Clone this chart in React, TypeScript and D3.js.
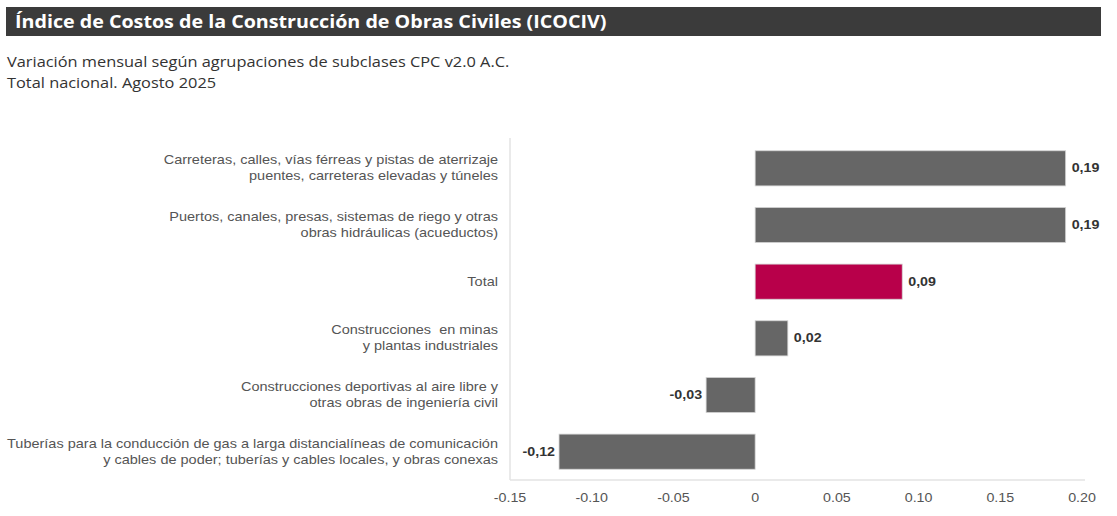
import React, { useEffect, useRef } from 'react';
import * as d3 from 'd3';

const categories = [
  ['Carreteras, calles, vías férreas y pistas de aterrizaje', 'puentes, carreteras elevadas y túneles'],
  ['Puertos, canales, presas, sistemas de riego y otras', 'obras hidráulicas (acueductos)'],
  ['Total'],
  ['Construcciones \u00a0en minas', 'y plantas industriales'],
  ['Construcciones deportivas al aire libre y', 'otras obras de ingeniería civil'],
  ['Tuberías para la conducción de gas a larga distancialíneas de comunicación', 'y cables de poder; tuberías y cables locales, y obras conexas'],
];
const values = [0.19, 0.19, 0.09, 0.02, -0.03, -0.12];
const xTicks = [-0.15, -0.1, -0.05, 0, 0.05, 0.1, 0.15, 0.2];
const xTickLabels = ['-0.15', '-0.10', '-0.05', '0', '0.05', '0.10', '0.15', '0.20'];

const W = 1117;
const H = 516;
// the original picture is stretched horizontally
const SX = 1.19;

const App = () => {
  const svgRef = useRef<SVGSVGElement>(null);

  useEffect(() => {
    if (!svgRef.current) return;
    const root = d3.select(svgRef.current);
    root.selectAll('*').remove();

    root.append('rect').attr('width', W).attr('height', H).attr('fill', '#fff');

    const at = (x: number, y: number, s = SX) => `translate(${x},${y}) scale(${s},1)`;

    // Title bar
    root.append('rect')
      .attr('x', 6).attr('y', 7)
      .attr('width', 1095).attr('height', 29)
      .attr('fill', '#3b3b3b');
    root.append('text')
      .attr('transform', at(15, 28, 1.158))
      .attr('fill', '#fff')
      .style('font-family', '"Open Sans", sans-serif')
      .style('font-weight', 700)
      .style('font-size', '17px')
      .text('Índice de Costos de la Construcción de Obras Civiles (ICOCIV)');

    const sub = root.append('g')
      .style('font-family', '"Open Sans", sans-serif')
      .style('font-size', '14px')
      .attr('fill', '#333');
    sub.append('text').attr('transform', at(7, 67, 1.17))
      .text('Variación mensual según agrupaciones de subclases CPC v2.0 A.C.');
    sub.append('text').attr('transform', at(7, 88, 1.17))
      .text('Total nacional. Agosto 2025');

    // Scales
    const x = d3.scaleLinear().domain([-0.15, 0.2]).range([510, 1082]);
    const y = d3.scaleBand<number>()
      .domain(d3.range(values.length))
      .range([140, 480])
      .paddingInner(0.38)
      .paddingOuter(0.19);

    const font = '"Liberation Sans", Arial, sans-serif';

    // axis lines
    root.append('line')
      .attr('x1', x(-0.15)).attr('x2', x(-0.15))
      .attr('y1', 138).attr('y2', 480)
      .attr('stroke', '#e3e3e3').attr('stroke-width', 1.5);
    root.append('line')
      .attr('x1', x(-0.15)).attr('x2', 1085)
      .attr('y1', 480).attr('y2', 480)
      .attr('stroke', '#e3e3e3').attr('stroke-width', 1.5);

    // bars
    root.selectAll('rect.bar')
      .data(values)
      .enter()
      .append('rect')
      .attr('class', 'bar')
      .attr('x', d => x(Math.min(0, d)))
      .attr('y', (d, i) => y(i)!)
      .attr('width', d => Math.abs(x(d) - x(0)))
      .attr('height', y.bandwidth())
      .attr('fill', (d, i) => (categories[i][0] === 'Total' ? '#b8004a' : '#666666'))
      .attr('stroke', '#d4d4d4')
      .attr('stroke-width', 0.8);

    // value labels
    root.selectAll('text.val')
      .data(values)
      .enter()
      .append('text')
      .attr('class', 'val')
      .attr('transform', (d, i) =>
        at(d >= 0 ? x(d) + 6 : x(d) - 4, y(i)! + y.bandwidth() / 2 + 4))
      .attr('text-anchor', d => (d >= 0 ? 'start' : 'end'))
      .attr('fill', '#333')
      .style('font-family', font)
      .style('font-weight', 700)
      .style('font-size', '12px')
      .text(d => d3.format('.2f')(d).replace('.', ',').replace('\u2212', '-'));

    // category labels
    const cat = root.append('g')
      .style('font-family', font)
      .style('font-size', '12px')
      .attr('fill', '#555');
    categories.forEach((lines, i) => {
      const cy = y(i)! + y.bandwidth() / 2;
      const t = cat.append('text')
        .attr('text-anchor', 'end')
        .attr('transform', at(498, cy - ((lines.length - 1) * 16) / 2 + 4, 1.21));
      lines.forEach((l, j) => {
        t.append('tspan').attr('x', 0).attr('dy', j === 0 ? 0 : 16).text(l);
      });
    });

    // x tick labels
    root.selectAll('text.tick')
      .data(xTicks)
      .enter()
      .append('text')
      .attr('class', 'tick')
      .attr('transform', d => at(x(d), 502))
      .attr('text-anchor', 'middle')
      .attr('fill', '#555')
      .style('font-family', font)
      .style('font-size', '12px')
      .text((d, i) => xTickLabels[i]);
  }, []);

  return (
    <svg
      ref={svgRef}
      width={W}
      height={H}
      style={{ position: 'absolute', left: 0, top: 0, display: 'block' }}
    />
  );
};

export default App;
